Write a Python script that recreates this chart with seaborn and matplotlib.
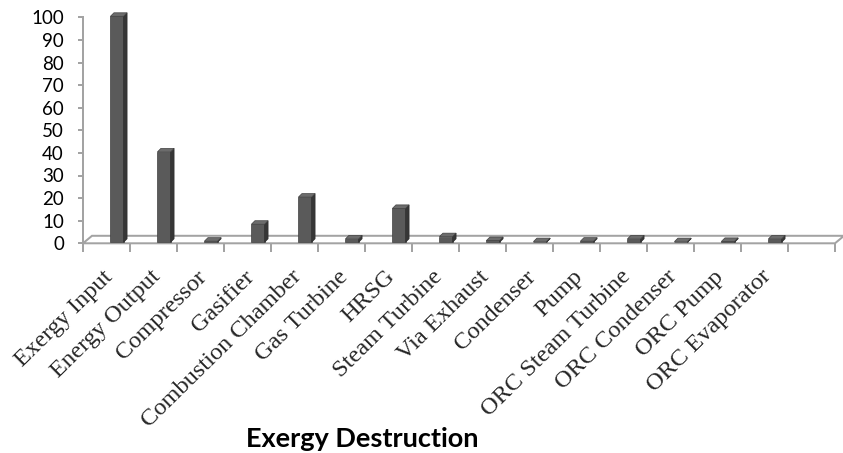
import matplotlib
matplotlib.use("Agg")
import matplotlib.pyplot as plt
import numpy as np
import pandas as pd
import seaborn as sns
from matplotlib.patches import Polygon
from matplotlib.transforms import ScaledTranslation

# Exergy destruction by component (% of exergy input)
categories = [
    "Exergy Input", "Energy Output", "Compressor", "Gasifier",
    "Combustion Chamber", "Gas Turbine", "HRSG", "Steam Turbine",
    "Via Exhaust", "Condenser", "Pump", "ORC Steam Turbine",
    "ORC Condenser", "ORC Pump", "ORC Evaporator",
]
values = [100, 40, 0.5, 8, 20, 1.5, 15, 2.5, 0.8, 0.3, 0.5, 1.5, 0.3, 0.4, 1.5]
y_ticks = [0, 10, 20, 30, 40, 50, 60, 70, 80, 90, 100]
title = "Exergy Destruction"

sns.set_theme(style="white")
plt.rcParams["font.family"] = ["Lato", "DejaVu Sans"]

W, H = 843, 453
DPI = 100
PT = 72 / DPI  # points per pixel
fig = plt.figure(figsize=(W / DPI, H / DPI), dpi=DPI)
fig.patch.set_facecolor("white")

# axes box: x from left wall to right end of floor, y from 0 to 100
left_px, right_px = 83, 835
zero_px, top_px = 243.3, 17.3
ax = fig.add_axes([left_px / W, 1 - zero_px / H,
                   (right_px - left_px) / W, (zero_px - top_px) / H])
ax.set_facecolor("none")

n_slots = len(categories) + 1
df = pd.DataFrame({"component": categories, "value": values})
sns.barplot(data=df, x="component", y="value", color="#5a5a5a", saturation=1,
            width=0.28, edgecolor="#404040", linewidth=0.5, ax=ax, zorder=3)

ax.set_xlim(-0.5, n_slots - 0.5)
ax.set_ylim(0, 100)

px_x = (right_px - left_px) / n_slots          # pixels per category slot
px_y = (zero_px - top_px) / 100.0               # pixels per unit
grey = "#a3a3a3"

# floor of the 3-D chart
fdx, fdy = 9 / px_x, 7.5 / px_y
floor = Polygon([(-0.5, 0), (n_slots - 0.5, 0),
                 (n_slots - 0.5 + fdx, fdy), (-0.5 + fdx, fdy)],
                closed=True, facecolor="white", edgecolor=grey, lw=2 * PT,
                clip_on=False, zorder=1)
ax.add_patch(floor)

# bars sit a little to the right of the slot centre and just behind the front edge
shift = ScaledTranslation(10.5 / DPI, 1.0 / DPI, fig.dpi_scale_trans)
ddx, ddy = 3.5 / px_x, 3.5 / px_y
for bar in ax.patches:
    if bar is floor:
        continue
    bar.set_transform(ax.transData + shift)
    bar.set_clip_on(False)
    x, w, h = bar.get_x(), bar.get_width(), bar.get_height()
    side = Polygon([(x + w, 0), (x + w + ddx, ddy), (x + w + ddx, h + ddy), (x + w, h)],
                   closed=True, facecolor="#363636", edgecolor="#303030", lw=0.5,
                   transform=ax.transData + shift, clip_on=False, zorder=3)
    top = Polygon([(x, h), (x + w, h), (x + w + ddx, h + ddy), (x + ddx, h + ddy)],
                  closed=True, facecolor="#6c6c6c", edgecolor="#404040", lw=0.5,
                  transform=ax.transData + shift, clip_on=False, zorder=3)
    ax.add_patch(side)
    ax.add_patch(top)

# axes lines and ticks
for s in ["top", "right", "bottom"]:
    ax.spines[s].set_visible(False)
ax.spines["left"].set_color(grey)
ax.spines["left"].set_linewidth(2 * PT)

ax.set_yticks(y_ticks)
ax.set_yticklabels([str(v) for v in y_ticks], fontsize=13.5, color="black")
ax.tick_params(axis="y", direction="out", length=5 * PT, width=2 * PT, color=grey,
               pad=14 * PT, left=True)

ax.set_xticks(np.arange(-0.5, n_slots, 1.0), minor=True)
ax.tick_params(axis="x", which="minor", direction="out", length=8.5 * PT, width=2 * PT,
               color=grey, bottom=True)
ax.set_xticks(np.arange(len(categories)) - 4 / px_x)
ax.set_xticklabels(categories, rotation=44.5, ha="right", rotation_mode="anchor",
                   fontsize=17.6, family=["Liberation Serif", "DejaVu Serif"])
ax.tick_params(axis="x", which="major", length=0, pad=23 * PT)
ax.set_xlabel("")
ax.set_ylabel("")

fig.text(362 / W, 1 - 439 / H, title, ha="center", va="center",
         fontsize=19.5, fontweight="bold", color="black")

fig.savefig("out.png", dpi=DPI, facecolor="white")
